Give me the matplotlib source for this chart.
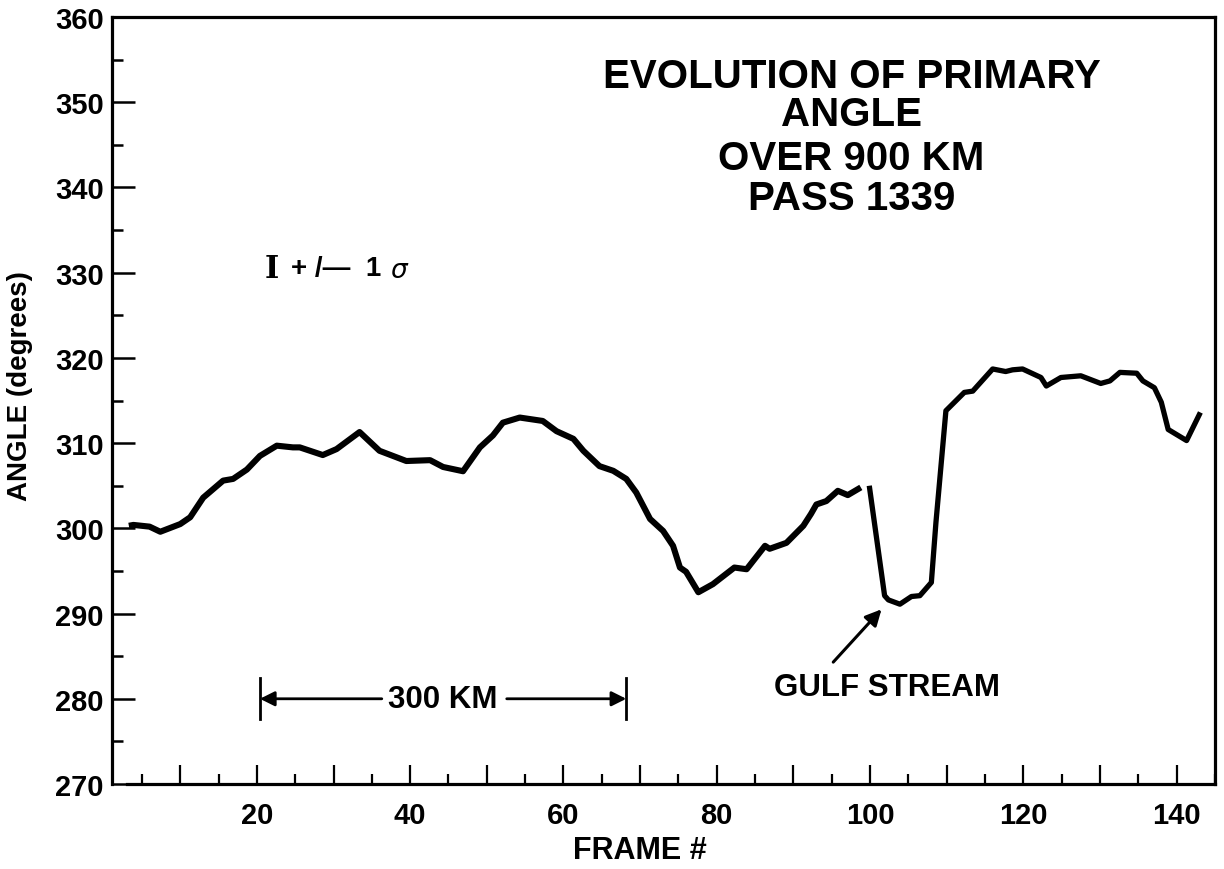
import matplotlib
matplotlib.use("Agg")
import matplotlib.pyplot as plt
from matplotlib.ticker import MultipleLocator, FixedLocator, FuncFormatter

# ---- data ----
frames_a = [3.3, 3.9, 6.0, 7.4, 10.0, 11.3, 13.0, 15.6, 16.9, 18.7, 20.4, 22.6, 24.7, 25.6,
            28.6, 30.4, 33.4, 36.0, 39.5, 42.6, 44.3, 46.9, 49.1, 50.8, 52.1, 54.3, 57.3,
            59.1, 61.3, 62.6, 64.7, 66.5, 68.2, 69.5, 71.3, 73.0, 74.3, 75.2, 76.0, 77.6,
            79.5, 82.3, 83.9, 86.3, 86.9, 89.1, 91.3, 92.3, 93.0, 94.3, 95.8, 97.1, 98.8]
angle_a = [300.3, 300.4, 300.2, 299.6, 300.5, 301.3, 303.6, 305.6, 305.8, 306.9, 308.5, 309.7,
           309.5, 309.5, 308.6, 309.3, 311.3, 309.1, 307.9, 308.0, 307.2, 306.7, 309.5, 310.9,
           312.4, 313.0, 312.6, 311.4, 310.5, 309.1, 307.3, 306.75, 305.8, 304.2, 301.1, 299.7,
           297.95, 295.4, 294.9, 292.5, 293.45, 295.4, 295.2, 297.95, 297.6, 298.3, 300.3,
           301.7, 302.8, 303.2, 304.4, 303.9, 304.8]

frames_b = [99.9, 101.9, 102.4, 103.9, 105.4, 106.5, 108.0, 108.6, 109.9, 112.3, 113.4, 116.0,
            117.7, 118.6, 119.9, 122.3, 123.0, 124.9, 127.5, 130.1, 131.3, 132.6, 134.8,
            135.6, 137.1, 138.0, 138.9, 141.3, 143.1]
angle_b = [305.0, 292.1, 291.6, 291.1, 292.0, 292.1, 293.65, 300.7, 313.8, 315.95, 316.1, 318.7,
           318.4, 318.6, 318.7, 317.7, 316.7, 317.7, 317.9, 317.0, 317.3, 318.3, 318.2,
           317.3, 316.5, 314.8, 311.6, 310.3, 313.6]

title_lines = ["EVOLUTION OF PRIMARY", "ANGLE", "OVER 900 KM", "PASS 1339"]
x_ticks_major = list(range(10, 141, 10))
x_tick_labels = {20: "20", 40: "40", 60: "60", 80: "80", 100: "100", 120: "120", 140: "140"}
y_ticks_major = list(range(270, 361, 10))
scale_bar = (20.4, 68.2)   # 300 KM span (frames)

FONT = "Liberation Sans"
plt.rcParams['font.family'] = [FONT, 'DejaVu Sans']

fig = plt.figure(figsize=(12.24, 8.70), dpi=100)
ax = fig.add_axes([0.0915, 0.0977, 0.9011, 0.8816])
ax.set_xlim(1.1, 145)
ax.set_ylim(270, 360)

ax.plot(frames_a, angle_a, color='black', lw=4.4, solid_joinstyle='round', solid_capstyle='butt')
ax.plot(frames_b, angle_b, color='black', lw=3.8, solid_joinstyle='round', solid_capstyle='butt')

for s in ax.spines.values():
    s.set_linewidth(2.3)
ax.spines['bottom'].set_bounds(3.0, 145)

ax.xaxis.set_major_locator(FixedLocator(x_ticks_major))
ax.xaxis.set_minor_locator(MultipleLocator(5))
ax.xaxis.set_major_formatter(FuncFormatter(lambda v, p: x_tick_labels.get(int(round(v)), "")))
ax.yaxis.set_major_locator(FixedLocator(y_ticks_major))
ax.yaxis.set_minor_locator(MultipleLocator(5))

ax.tick_params(axis='x', which='major', direction='in', length=14, width=1.6, pad=12,
               labelsize=21, top=False)
ax.tick_params(axis='x', which='minor', direction='in', length=7, width=1.6, top=False)
ax.tick_params(axis='y', which='major', direction='in', length=16.5, width=1.8, pad=6,
               labelsize=21, right=False)
ax.tick_params(axis='y', which='minor', direction='in', length=8, width=1.8, right=False)
for lab in ax.get_xticklabels() + ax.get_yticklabels():
    lab.set_fontweight('bold')

ax.set_xlabel("FRAME #", fontsize=22, fontweight='bold')
ax.xaxis.set_label_coords(0.4787, -0.066)
ax.set_ylabel("ANGLE (degrees)", fontsize=20, fontweight='bold')
ax.yaxis.set_label_coords(-0.072, 0.52)

# title block
title_y = [353.1, 348.6, 343.5, 338.8]
for t, yv in zip(title_lines, title_y):
    ax.text(97.6, yv, t, ha='center', va='center', fontsize=29, fontweight='bold')

# sigma legend
ax.text(22.0, 330.5, "I", ha='center', va='center', fontsize=22, fontweight='bold',
        family='DejaVu Serif')
ax.text(24.5, 330.5, "+ /\u2014  1", ha='left', va='center', fontsize=20, fontweight='bold')
ax.text(37.4, 330.3, "\u03c3", ha='left', va='center', fontsize=19, style='italic',
        family='DejaVu Sans')

# 300 KM scale bar
x0, x1 = scale_bar
xm = 44.2
ax.plot([x0, x0], [277.6, 282.4], color='black', lw=2)
ax.plot([x1, x1], [277.6, 282.4], color='black', lw=2)
ax.annotate("", xy=(x0, 280), xytext=(x0 + 15.9, 280),
            arrowprops=dict(arrowstyle='-|>', color='black', lw=2, mutation_scale=22,
                            shrinkA=0, shrinkB=0))
ax.annotate("", xy=(x1, 280), xytext=(x1 - 15.6, 280),
            arrowprops=dict(arrowstyle='-|>', color='black', lw=2, mutation_scale=22,
                            shrinkA=0, shrinkB=0))
ax.text(xm, 280, "300 KM", ha='center', va='center', fontsize=22.5, fontweight='bold')

# Gulf stream annotation
ax.annotate("", xy=(101.5, 290.5), xytext=(95.2, 284.3),
            arrowprops=dict(arrowstyle='-|>', color='black', lw=2.2, mutation_scale=24,
                            shrinkA=0, shrinkB=0))
ax.text(102.2, 281.4, "GULF STREAM", ha='center', va='center', fontsize=22.5, fontweight='bold')

fig.savefig("out.png", dpi=100, facecolor='white')
